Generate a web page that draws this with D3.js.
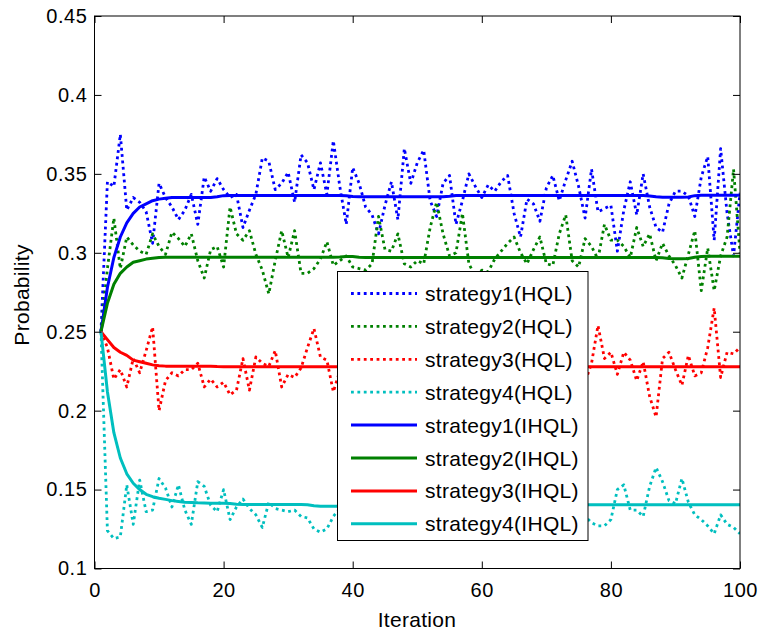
<!DOCTYPE html>
<html>
<head>
<meta charset="utf-8">
<script src="https://cdn.jsdelivr.net/npm/d3@7"></script>
<style>
  html, body { margin: 0; padding: 0; background: #ffffff; }
  svg { display: block; }
  text { font-family: "Liberation Sans", Arial, Helvetica, sans-serif; fill: #000; }
</style>
</head>
<body>
<svg id="chart" width="762" height="634"></svg>
<script>
// ---------------- DATA ----------------
const iterations = d3.range(1, 101);

const s1HQL = [0.250,0.345,0.342,0.375,0.327,0.335,0.332,0.326,0.306,0.344,
0.335,0.329,0.321,0.327,0.337,0.318,0.348,0.339,0.347,0.340,
0.335,0.337,0.316,0.327,0.337,0.360,0.358,0.340,0.344,0.351,
0.332,0.362,0.357,0.340,0.357,0.337,0.371,0.342,0.318,0.354,
0.344,0.329,0.324,0.312,0.330,0.345,0.321,0.366,0.344,0.357,
0.365,0.333,0.323,0.344,0.349,0.318,0.333,0.350,0.342,0.335,
0.343,0.339,0.345,0.349,0.325,0.310,0.334,0.331,0.320,0.341,
0.349,0.333,0.346,0.358,0.342,0.322,0.353,0.326,0.328,0.330,
0.301,0.327,0.345,0.324,0.350,0.329,0.316,0.313,0.331,0.339,
0.339,0.336,0.323,0.348,0.361,0.308,0.366,0.325,0.298,0.338];

const s2HQL = [0.250,0.290,0.322,0.290,0.310,0.305,0.301,0.299,0.312,0.304,
0.299,0.313,0.309,0.304,0.312,0.295,0.284,0.302,0.304,0.291,
0.329,0.312,0.308,0.314,0.299,0.289,0.274,0.295,0.314,0.297,
0.314,0.287,0.287,0.290,0.296,0.307,0.292,0.295,0.298,0.291,
0.290,0.289,0.293,0.323,0.302,0.301,0.312,0.293,0.291,0.295,
0.293,0.316,0.332,0.312,0.298,0.300,0.325,0.293,0.285,0.289,
0.288,0.296,0.301,0.306,0.310,0.300,0.293,0.302,0.310,0.293,
0.292,0.312,0.324,0.295,0.291,0.309,0.304,0.296,0.318,0.308,
0.308,0.304,0.297,0.316,0.304,0.312,0.295,0.306,0.298,0.292,
0.284,0.299,0.314,0.276,0.303,0.276,0.298,0.310,0.353,0.300];

const s3HQL = [0.250,0.240,0.220,0.226,0.215,0.233,0.224,0.238,0.253,0.200,
0.219,0.224,0.222,0.226,0.226,0.230,0.215,0.220,0.215,0.218,
0.210,0.213,0.233,0.213,0.234,0.230,0.228,0.238,0.215,0.223,
0.221,0.227,0.240,0.252,0.234,0.232,0.212,0.225,0.232,0.219,
0.236,0.228,0.214,0.230,0.241,0.222,0.226,0.235,0.218,0.229,
0.238,0.221,0.227,0.233,0.216,0.231,0.240,0.224,0.219,0.230,
0.236,0.226,0.213,0.229,0.237,0.222,0.231,0.228,0.217,0.234,
0.225,0.239,0.220,0.230,0.226,0.218,0.230,0.254,0.233,0.237,
0.223,0.237,0.232,0.219,0.231,0.209,0.196,0.233,0.237,0.226,
0.216,0.235,0.222,0.224,0.240,0.265,0.221,0.237,0.236,0.240];

const s4HQL = [0.250,0.124,0.119,0.120,0.153,0.128,0.156,0.136,0.137,0.157,
0.151,0.139,0.153,0.137,0.128,0.155,0.152,0.140,0.136,0.150,
0.131,0.139,0.144,0.138,0.134,0.126,0.142,0.138,0.137,0.136,
0.137,0.133,0.132,0.125,0.123,0.125,0.133,0.138,0.146,0.131,
0.149,0.136,0.127,0.143,0.152,0.134,0.140,0.147,0.129,0.138,
0.150,0.133,0.141,0.145,0.128,0.139,0.148,0.135,0.131,0.144,
0.150,0.137,0.126,0.142,0.147,0.133,0.139,0.145,0.130,0.136,
0.143,0.149,0.134,0.129,0.138,0.133,0.129,0.127,0.127,0.131,
0.150,0.153,0.137,0.137,0.133,0.152,0.164,0.155,0.143,0.141,
0.157,0.142,0.134,0.131,0.127,0.122,0.134,0.128,0.126,0.122];

const s1IHQL = [0.250,0.278,0.297,0.310,0.319,0.325,0.329,0.331,0.333,0.334,
0.3345,0.335,0.335,0.335,0.335,0.335,0.335,0.335,0.3355,0.3362,
0.3363,0.3363,0.3363,0.3363,0.3363,0.3363,0.3363,0.3363,0.3363,0.3363,
0.3363,0.3363,0.3363,0.3363,0.3363,0.3363,0.3363,0.3363,0.3362,0.3356,
0.3355,0.3355,0.3355,0.3355,0.3355,0.3355,0.3355,0.3355,0.3355,0.3355,
0.3355,0.3355,0.3355,0.3355,0.3358,0.3363,0.3363,0.3363,0.3363,0.3363,
0.3363,0.3363,0.3363,0.3363,0.3363,0.3363,0.3363,0.3363,0.3363,0.3363,
0.3363,0.3363,0.3363,0.3363,0.3363,0.3363,0.3363,0.3363,0.3363,0.3363,
0.3363,0.3363,0.3363,0.3363,0.3363,0.3360,0.3355,0.3352,0.3352,0.3352,
0.3352,0.3354,0.3362,0.3365,0.3365,0.3365,0.3365,0.3365,0.3365,0.3365];

const s2IHQL = [0.250,0.268,0.280,0.287,0.291,0.294,0.295,0.296,0.2965,0.297,
0.2972,0.2972,0.2972,0.2972,0.2972,0.2972,0.2972,0.2972,0.2972,0.2972,
0.2972,0.2972,0.2972,0.2972,0.2972,0.2972,0.2972,0.2972,0.2972,0.2972,
0.2972,0.2972,0.2972,0.2972,0.2972,0.2972,0.2972,0.2974,0.2977,0.2976,
0.2972,0.2970,0.2970,0.2970,0.2970,0.2970,0.2970,0.2970,0.2970,0.2970,
0.2970,0.2970,0.2970,0.2970,0.2970,0.2970,0.2970,0.2970,0.2970,0.2970,
0.2970,0.2970,0.2970,0.2970,0.2970,0.2970,0.2970,0.2970,0.2970,0.2970,
0.2970,0.2970,0.2970,0.2970,0.2970,0.2970,0.2970,0.2970,0.2970,0.2970,
0.2970,0.2970,0.2970,0.2970,0.2970,0.2970,0.2970,0.2968,0.2964,0.2962,
0.2962,0.2964,0.2972,0.2977,0.2978,0.2978,0.2978,0.2978,0.2978,0.2978];

const s3IHQL = [0.250,0.245,0.240,0.237,0.235,0.232,0.231,0.230,0.229,0.2285,
0.2282,0.2282,0.2282,0.2282,0.2282,0.2282,0.2282,0.2281,0.2279,0.2278,
0.2278,0.2278,0.2278,0.2278,0.2278,0.2278,0.2278,0.2278,0.2278,0.2278,
0.2278,0.2278,0.2278,0.2278,0.2278,0.2278,0.2278,0.2278,0.2278,0.2278,
0.2278,0.2278,0.2278,0.2278,0.2278,0.2278,0.2278,0.2278,0.2278,0.2278,
0.2278,0.2278,0.2278,0.2278,0.2278,0.2278,0.2278,0.2278,0.2278,0.2278,
0.2278,0.2278,0.2278,0.2278,0.2278,0.2278,0.2278,0.2278,0.2278,0.2278,
0.2278,0.2278,0.2278,0.2278,0.2278,0.2278,0.2278,0.2278,0.2278,0.2278,
0.2278,0.2278,0.2278,0.2278,0.2278,0.2278,0.2278,0.2278,0.2278,0.2278,
0.2278,0.2278,0.2278,0.2278,0.2278,0.2278,0.2278,0.2278,0.2278,0.2278];

const s4IHQL = [0.250,0.212,0.186,0.170,0.160,0.154,0.150,0.147,0.1455,0.1445,
0.1438,0.1430,0.1425,0.1420,0.1418,0.1416,0.1415,0.1414,0.1414,0.1414,
0.1412,0.1407,0.1406,0.1406,0.1406,0.1406,0.1406,0.1406,0.1406,0.1406,
0.1406,0.1406,0.1404,0.1398,0.1395,0.1395,0.1395,0.1395,0.1395,0.1395,
0.1395,0.1395,0.1395,0.1395,0.1395,0.1395,0.1395,0.1395,0.1395,0.1395,
0.1395,0.1395,0.1395,0.1395,0.1395,0.1395,0.1395,0.1395,0.1398,0.1402,
0.1404,0.1404,0.1404,0.1404,0.1404,0.1404,0.1404,0.1404,0.1404,0.1404,
0.1404,0.1404,0.1404,0.1404,0.1404,0.1404,0.1404,0.1404,0.1404,0.1404,
0.1404,0.1404,0.1404,0.1404,0.1404,0.1404,0.1404,0.1404,0.1404,0.1404,
0.1404,0.1404,0.1404,0.1404,0.1404,0.1404,0.1404,0.1404,0.1404,0.1404];

const seriesNames = ["strategy1(HQL)","strategy2(HQL)","strategy3(HQL)","strategy4(HQL)",
                     "strategy1(IHQL)","strategy2(IHQL)","strategy3(IHQL)","strategy4(IHQL)"];
const seriesValues = [s1HQL, s2HQL, s3HQL, s4HQL, s1IHQL, s2IHQL, s3IHQL, s4IHQL];
const seriesColors = ["#0000ff","#008000","#ff0000","#00bfbf","#0000ff","#008000","#ff0000","#00bfbf"];
const seriesDotted = [true, true, true, true, false, false, false, false];

const xTicks = [0, 20, 40, 60, 80, 100];
const xTickLabels = ["0","20","40","60","80","100"];
const yTicks = [0.1, 0.15, 0.2, 0.25, 0.3, 0.35, 0.4, 0.45];
const yTickLabels = ["0.1","0.15","0.2","0.25","0.3","0.35","0.4","0.45"];
const xLabel = "Iteration";
const yLabel = "Probability";

// ---------------- LAYOUT ----------------
const L = 94.5, R = 740, T = 16, B = 568.5;
const svg = d3.select("#chart");
svg.append("rect").attr("width", 762).attr("height", 634).attr("fill", "#fff");

const x = d3.scaleLinear().domain([0, 100]).range([L, R]);
const y = d3.scaleLinear().domain([0.1, 0.45]).range([B, T]);

svg.append("clipPath").attr("id", "clip")
  .append("rect").attr("x", L).attr("y", T).attr("width", R - L).attr("height", B - T);

const plot = svg.append("g").attr("clip-path", "url(#clip)");

const line = d3.line().x((d, i) => x(iterations[i])).y(d => y(d));

seriesValues.forEach((vals, k) => {
  plot.append("path")
    .datum(vals)
    .attr("d", line)
    .attr("fill", "none")
    .attr("stroke", seriesColors[k])
    .attr("stroke-width", seriesDotted[k] ? 2.8 : 3)
    .attr("stroke-dasharray", seriesDotted[k] ? "2.8,3.6" : null)
    .attr("stroke-linejoin", "round");
});

// Axes (ticks inward, mirrored)
const fontSize = 20;
const axB = d3.axisBottom(x).tickValues(xTicks).tickFormat((d, i) => xTickLabels[i])
  .tickSizeInner(-7).tickSizeOuter(0).tickPadding(14);
const axL = d3.axisLeft(y).tickValues(yTicks).tickFormat((d, i) => yTickLabels[i])
  .tickSizeInner(-7).tickSizeOuter(0).tickPadding(7);
const axT = d3.axisTop(x).tickValues(xTicks).tickFormat("").tickSizeInner(-7).tickSizeOuter(0);
const axR = d3.axisRight(y).tickValues(yTicks).tickFormat("").tickSizeInner(-7).tickSizeOuter(0);

function styleAxis(g) {
  g.select(".domain").remove();
  g.selectAll("line").attr("stroke", "#000").attr("stroke-width", 1);
  g.selectAll("text").attr("font-size", fontSize)
    .attr("font-family", "'Liberation Sans', Arial, sans-serif").attr("fill", "#000")
    .attr("letter-spacing", 0.6);
}
svg.append("g").attr("transform", `translate(0,${B})`).call(axB).call(styleAxis);
svg.append("g").attr("transform", `translate(${L},0)`).call(axL).call(styleAxis);
svg.append("g").attr("transform", `translate(0,${T})`).call(axT).call(styleAxis);
svg.append("g").attr("transform", `translate(${R},0)`).call(axR).call(styleAxis);

svg.append("rect").attr("x", L).attr("y", T).attr("width", R - L).attr("height", B - T)
  .attr("fill", "none").attr("stroke", "#000").attr("stroke-width", 1);

// Axis labels
svg.append("text").attr("x", 417).attr("y", 627).attr("text-anchor", "middle")
  .attr("font-size", 21).attr("letter-spacing", 0.3).text(xLabel);
svg.append("text").attr("transform", `translate(29,${295}) rotate(-90)`)
  .attr("text-anchor", "middle").attr("font-size", 21).attr("letter-spacing", 0.3).text(yLabel);

// Legend
const lg = svg.append("g");
lg.append("rect").attr("x", 337.5).attr("y", 271.5).attr("width", 250.5).attr("height", 269)
  .attr("fill", "#fff").attr("stroke", "#000").attr("stroke-width", 1);
seriesNames.forEach((name, k) => {
  const cy = 293.5 + k * 32.9;
  lg.append("line").attr("x1", 351).attr("x2", 417).attr("y1", cy).attr("y2", cy)
    .attr("stroke", seriesColors[k])
    .attr("stroke-width", seriesDotted[k] ? 2.8 : 3)
    .attr("stroke-dasharray", seriesDotted[k] ? "2.8,3.6" : null);
  lg.append("text").attr("x", 425).attr("y", cy).attr("dy", "0.36em")
    .attr("font-size", 21).attr("letter-spacing", 0.3).text(name);
});
</script>
</body>
</html>
